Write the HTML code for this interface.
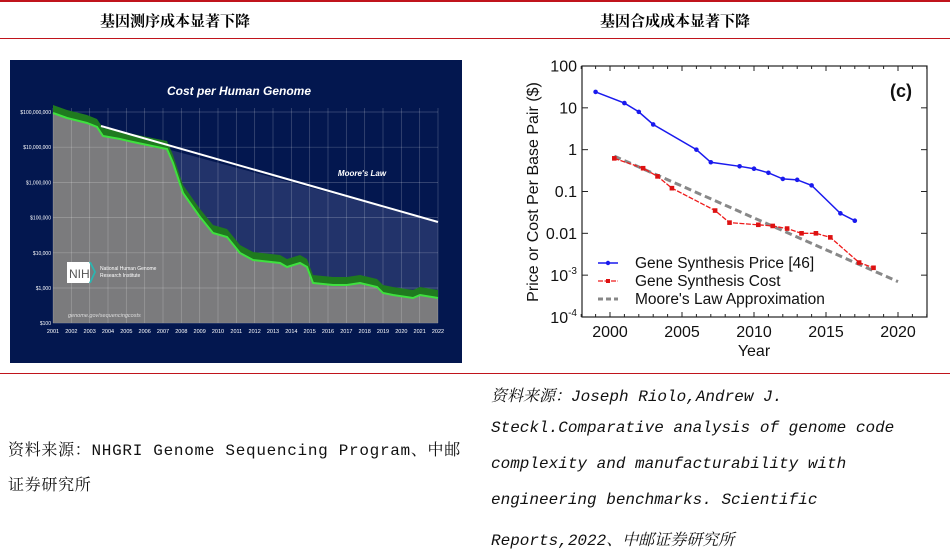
<!DOCTYPE html>
<html><head><meta charset="utf-8">
<style>
body{margin:0;width:950px;height:551px;background:#fff;position:relative;overflow:hidden;font-family:"Liberation Sans","Noto Sans CJK SC",sans-serif}
.hl{position:absolute;left:0;width:950px;height:2px;background:#c0141c}
.hd{position:absolute;top:10px;font-family:"Liberation Serif","Noto Serif CJK SC",serif;font-weight:bold;font-size:15px;color:#000}
.mono{position:absolute;font-family:"Liberation Mono","Noto Serif CJK SC",monospace;font-size:16px;color:#111;white-space:nowrap}
</style></head><body>
<div class="hl" style="top:0"></div>
<div class="hl" style="top:38px;height:1px"></div>
<div class="hl" style="top:373px;height:1px"></div>
<div class="hd" style="left:100px">基因测序成本显著下降</div>
<div class="hd" style="left:600px">基因合成成本显著下降</div>
<svg id="L" style="position:absolute;left:0;top:0" width="950" height="551"></svg>
<div class="mono" style="left:8px;top:437px;letter-spacing:0.7px">资料来源：NHGRI Genome Sequencing Program、中邮</div>
<div class="mono" style="left:8px;top:472px;letter-spacing:0.7px">证券研究所</div>
<div class="mono" style="left:491px;top:383px;font-style:italic">资料来源：Joseph Riolo,Andrew J.</div>
<div class="mono" style="left:491px;top:419px;font-style:italic">Steckl.Comparative analysis of genome code</div>
<div class="mono" style="left:491px;top:455px;font-style:italic">complexity and manufacturability with</div>
<div class="mono" style="left:491px;top:491px;font-style:italic">engineering benchmarks. Scientific</div>
<div class="mono" style="left:491px;top:527px;font-style:italic">Reports,2022、中邮证券研究所</div>
<script>
var s='';
s+='<rect x="10" y="60" width="452" height="303" fill="#03174f"/>';
var lo=[[53,113],[67,118],[87,123],[97,127],[103,136],[120,139],[133,142],[157,147],[167,149],[173,163],[183,193],[200,217],[213,233],[227,237],[240,253],[253,260],[280,263],[287,267],[300,263],[307,267],[313,283],[333,285],[347,285],[360,283],[377,287],[383,293],[393,295],[413,298],[420,295],[438,298]];
var p=lo.map(a=>a.join(',')).join(' ');
s+='<polygon points="167,149 438,222 438,298 '+lo.slice(8).reverse().map(a=>a.join(',')).join(' ')+'" fill="#22336a"/>';
s+='<polygon points="53,323 '+p+' 438,323" fill="#7b7b7d"/>';
for(var i=0;i<22;i++){var x=53+i*(385/21);s+='<line x1="'+x+'" y1="108" x2="'+x+'" y2="323" stroke="#fff" stroke-opacity="0.25" stroke-width="0.7"/>';s+='<text x="'+x+'" y="333" fill="#fff" font-size="5.5" text-anchor="middle">'+(2001+i)+'</text>';}
var labs=['$100,000,000','$10,000,000','$1,000,000','$100,000','$10,000','$1,000','$100'];
for(var j=0;j<7;j++){var y=112+j*35.2;s+='<line x1="53" y1="'+y+'" x2="438" y2="'+y+'" stroke="#fff" stroke-opacity="0.25" stroke-width="0.7"/>';s+='<text x="51" y="'+(y+2)+'" fill="#fff" font-size="5" text-anchor="end">'+labs[j]+'</text>';}
var up=lo.map(a=>[a[0],a[1]-8]);
s+='<polygon points="'+up.map(a=>a.join(',')).join(' ')+' '+lo.slice().reverse().map(a=>a.join(',')).join(' ')+'" fill="#1f7a1f"/>';
s+='<polyline points="'+p+'" fill="none" stroke="#3fe03f" stroke-width="2"/>';
s+='<line x1="101" y1="126" x2="438" y2="222" stroke="#fff" stroke-width="2"/>';
s+='<text x="239" y="95" fill="#fff" font-size="12" font-weight="bold" font-style="italic" text-anchor="middle">Cost per Human Genome</text>';
s+='<text x="362" y="176" fill="#fff" font-size="8" font-weight="bold" font-style="italic" text-anchor="middle">Moore\'s Law</text>';
s+='<rect x="67" y="262" width="23" height="21" fill="#fff"/><text x="69" y="278" font-size="12" fill="#555">NIH</text><polygon points="89,262 94,272 89,283 91,283 96,272 91,262" fill="#2bb5b0"/>';
s+='<text x="100" y="270" fill="#fff" font-size="5">National Human Genome</text><text x="100" y="277" fill="#fff" font-size="5">Research Institute</text>';
s+='<text x="68" y="317" fill="#ddd" font-size="5.5" font-style="italic">genome.gov/sequencingcosts</text>';
function X(yr){return 610+(yr-2000)*14.4}
function Y(v){return 66+(2-Math.log10(v))*41.83}
s+='<rect x="582" y="66" width="345" height="251" fill="none" stroke="#222" stroke-width="1.2"/>';
for(var yr=1998;yr<=2022;yr++){var x=X(yr);var L=(yr%5==0)?5:3;s+='<line x1="'+x+'" y1="66" x2="'+x+'" y2="'+(66+L)+'" stroke="#222"/><line x1="'+x+'" y1="317" x2="'+x+'" y2="'+(317-L)+'" stroke="#222"/>';}
var yl=['100','10','1','0.1','0.01'];
for(var k=0;k<=6;k++){var y=66+k*41.83;s+='<line x1="582" y1="'+y+'" x2="588" y2="'+y+'" stroke="#222"/><line x1="927" y1="'+y+'" x2="921" y2="'+y+'" stroke="#222"/>';
 if(k<5)s+='<text x="577" y="'+(y+5.5)+'" font-size="16" text-anchor="end" fill="#111">'+yl[k]+'</text>';}
s+='<text x="577" y="281" font-size="16" text-anchor="end" fill="#111">10<tspan font-size="10" dy="-7">-3</tspan></text>';
s+='<text x="577" y="323" font-size="16" text-anchor="end" fill="#111">10<tspan font-size="10" dy="-7">-4</tspan></text>';
[2000,2005,2010,2015,2020].forEach(function(yr){s+='<text x="'+X(yr)+'" y="337" font-size="16" text-anchor="middle" fill="#111">'+yr+'</text>';});
s+='<text x="754" y="356" font-size="16" text-anchor="middle" fill="#111">Year</text>';
s+='<text transform="translate(538,192) rotate(-90)" font-size="16" text-anchor="middle" fill="#111">Price or Cost Per Base Pair ($)</text>';
s+='<text x="901" y="97" font-size="18" font-weight="bold" text-anchor="middle" fill="#111">(c)</text>';
s+='<line x1="'+X(2000.3)+'" y1="'+Y(0.7)+'" x2="'+X(2020)+'" y2="'+Y(0.0007)+'" stroke="#888" stroke-width="3" stroke-dasharray="7,4"/>';
var B=[[1999,24],[2001,13],[2002,8],[2003,4],[2006,1],[2007,0.5],[2009,0.4],[2010,0.35],[2011,0.28],[2012,0.2],[2013,0.19],[2014,0.14],[2016,0.03],[2017,0.02]];
var R=[[2000.3,0.62],[2002.3,0.36],[2003.3,0.23],[2004.3,0.12],[2007.3,0.035],[2008.3,0.018],[2010.3,0.016],[2011.3,0.015],[2012.3,0.013],[2013.3,0.01],[2014.3,0.01],[2015.3,0.008],[2017.3,0.002],[2018.3,0.0015]];
s+='<polyline points="'+B.map(a=>X(a[0])+','+Y(a[1])).join(' ')+'" fill="none" stroke="#1a1aee" stroke-width="1.5"/>';
B.forEach(a=>{s+='<circle cx="'+X(a[0])+'" cy="'+Y(a[1])+'" r="2.3" fill="#1a1aee"/>';});
s+='<polyline points="'+R.map(a=>X(a[0])+','+Y(a[1])).join(' ')+'" fill="none" stroke="#ee1a1a" stroke-width="1.3" stroke-dasharray="5,1.5"/>';
R.forEach(a=>{s+='<rect x="'+(X(a[0])-2.3)+'" y="'+(Y(a[1])-2.3)+'" width="4.6" height="4.6" fill="#dd1111"/>';});
s+='<line x1="598" y1="263" x2="618" y2="263" stroke="#1a1aee" stroke-width="1.5"/><circle cx="608" cy="263" r="2.2" fill="#1a1aee"/>';
s+='<line x1="598" y1="281" x2="618" y2="281" stroke="#ee1a1a" stroke-width="1.3" stroke-dasharray="5,1.5"/><rect x="606" y="279" width="4" height="4" fill="#dd1111"/>';
s+='<line x1="598" y1="299" x2="618" y2="299" stroke="#888" stroke-width="3" stroke-dasharray="5,3"/>';
s+='<text x="635" y="268" font-size="15.5" fill="#111">Gene Synthesis Price [46]</text>';
s+='<text x="635" y="286" font-size="15.5" fill="#111">Gene Synthesis Cost</text>';
s+='<text x="635" y="304" font-size="15.5" fill="#111">Moore\'s Law Approximation</text>';
document.getElementById('L').innerHTML=s;
</script>
</body></html>
